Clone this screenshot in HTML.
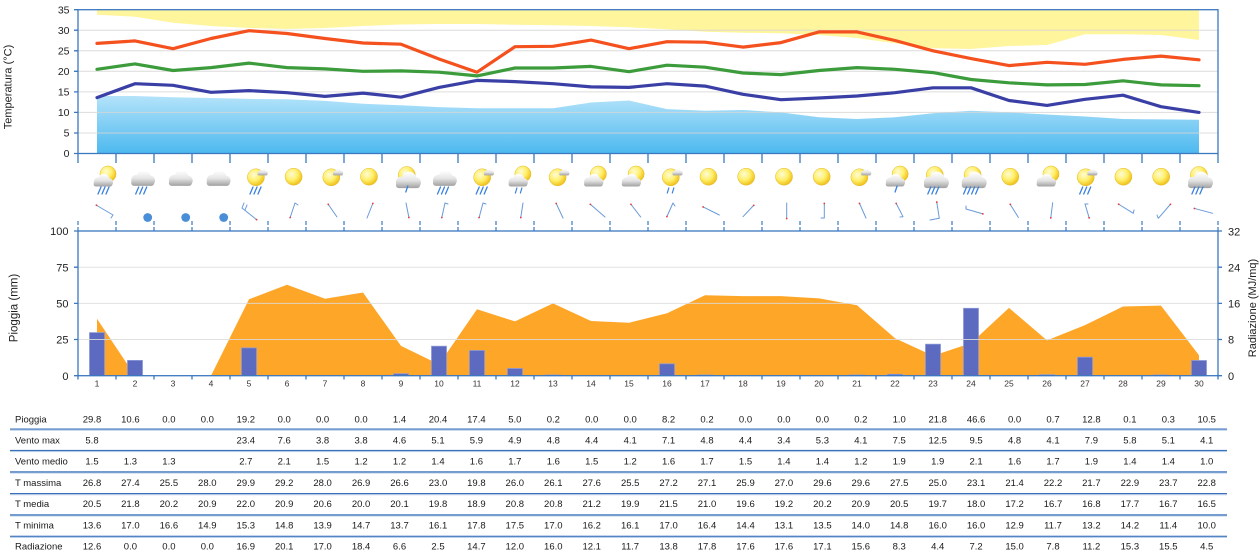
<!DOCTYPE html>
<html><head><meta charset="utf-8"><style>
html,body{margin:0;padding:0;background:#fff;}
svg{display:block;font-family:"Liberation Sans",Arial,sans-serif;}
</style></head><body>
<svg width="1260" height="554" viewBox="0 0 1260 554" xmlns="http://www.w3.org/2000/svg">
<defs>
<linearGradient id="gb" gradientUnits="userSpaceOnUse" x1="0" y1="96" x2="0" y2="153.5">
<stop offset="0" stop-color="#b4e3fa"/><stop offset="1" stop-color="#4cb9ef"/></linearGradient>
<radialGradient id="gs" gradientUnits="userSpaceOnUse" cx="-2" cy="-2.5" r="11">
<stop offset="0" stop-color="#fffbd6"/><stop offset="0.55" stop-color="#ffef6a"/><stop offset="1" stop-color="#f0c21c"/></radialGradient>
<linearGradient id="gc" gradientUnits="userSpaceOnUse" x1="0" y1="-8" x2="0" y2="7">
<stop offset="0" stop-color="#ffffff"/><stop offset="0.5" stop-color="#e4e4e4"/><stop offset="1" stop-color="#9c9c9c"/></linearGradient>
<g id="sun"><circle r="8.5" fill="url(#gs)" stroke="#e2b82e" stroke-width="0.5"/></g>
<g id="cl" fill="url(#gc)"><circle cx="-6" cy="1" r="5"/><circle cx="1" cy="-2" r="6.5"/><circle cx="7" cy="1.5" r="4.8"/><rect x="-11" y="1" width="22" height="5.5" rx="2.7"/></g>
<g id="rn" fill="none" stroke="#3a80e0" stroke-width="1.3" stroke-linecap="round"><path d="M-3,-5 L-6,2 M1,-5 L-2,2 M5,-5 L2,2"/></g>
<g id="rn4" fill="none" stroke="#3a80e0" stroke-width="1.3" stroke-linecap="round"><path d="M-6,-5 L-9,2 M-2,-5 L-5,2 M2,-5 L-1,2 M6,-5 L3,2"/></g>
<g id="d1" fill="none" stroke="#3a80e0" stroke-width="1.3" stroke-linecap="round"><path d="M1,-4 L-1,2"/></g>
<g id="d2" fill="none" stroke="#3a80e0" stroke-width="1.2" stroke-linecap="round"><path d="M-2,-3 L-3.5,2 M3,-3 L1.5,2"/></g>
</defs>

<!-- TOP CHART -->
<polygon fill="#fff59d" points="97,9.7 97,14.7 135,16.7 173,22.7 211,26 249,28 287,29 325,28 363,26 401,24.5 439,24 477,24 515,24.7 553,25.3 591,26 629,27.3 667,29.3 705,31.7 743,32.7 781,33.3 819,35 857,38 895,43.3 933,48.3 971,49 1009,46 1047,45 1085,34.3 1123,34.3 1161,35 1199,40 1199,9.7"/>
<polygon fill="url(#gb)" points="97,153.5 97,96 135,96 173,97.2 211,98 249,98.9 287,99.3 325,100.9 363,103.8 401,105.2 439,107.1 477,108.3 515,108.3 553,108.3 591,102.5 629,100.5 667,109.1 705,110.8 743,110 781,112.4 819,117.3 857,119 895,117.3 933,113.2 971,110.8 1009,112.4 1047,114.5 1085,116.5 1123,119 1161,119.4 1199,119.8 1199,153.5"/>
<g stroke="#d6d6d6" stroke-width="1" opacity="0.85">
<path d="M78,30.2H1218M78,50.8H1218M78,71.3H1218M78,91.9H1218M78,112.4H1218M78,133H1218"/>
</g>
<g fill="none" stroke-width="3.2" stroke-linejoin="round" stroke-linecap="round">
<polyline stroke="#f4511e" points="97,43.4 135,40.9 173,48.7 211,38.5 249,30.7 287,33.5 325,38.5 363,43 401,44.2 439,59 477,72.2 515,46.7 553,46.3 591,40.1 629,48.7 667,41.7 705,42.2 743,47.1 781,42.6 819,31.9 857,31.9 895,40.5 933,50.8 971,58.6 1009,65.6 1047,62.3 1085,64.3 1123,59.4 1161,56.1 1199,59.8"/>
<polyline stroke="#3c9c3c" points="97,69.3 135,63.9 173,70.5 211,67.6 249,63.1 287,67.6 325,68.9 363,71.3 401,70.9 439,72.2 477,75.9 515,68 553,68 591,66.4 629,71.7 667,65.2 705,67.2 743,73 781,74.6 819,70.5 857,67.6 895,69.3 933,72.6 971,79.5 1009,82.8 1047,84.9 1085,84.5 1123,80.8 1161,84.9 1199,85.7"/>
<polyline stroke="#3a3fa6" points="97,97.6 135,83.7 173,85.3 211,92.3 249,90.6 287,92.7 325,96.4 363,93.1 401,97.2 439,87.4 477,80.4 515,81.6 553,83.7 591,86.9 629,87.4 667,83.7 705,86.1 743,94.3 781,99.7 819,98 857,96 895,92.7 933,87.8 971,87.8 1009,100.5 1047,105.4 1085,99.3 1123,95.2 1161,106.7 1199,112.4"/>
</g>
<g stroke="#3a78c0" stroke-width="1.3" fill="none">
<rect x="78" y="9.7" width="1140" height="143.8"/>
<path d="M74,9.7H78M74,30.2H78M74,50.8H78M74,71.3H78M74,91.9H78M74,112.4H78M74,133H78M74,153.5H78"/>
<path d="M78,153.5V163M116,153.5V163M154,153.5V163M192,153.5V163M230,153.5V163M268,153.5V163M306,153.5V163M344,153.5V163M382,153.5V163M420,153.5V163M458,153.5V163M496,153.5V163M534,153.5V163M572,153.5V163M610,153.5V163M648,153.5V163M686,153.5V163M724,153.5V163M762,153.5V163M800,153.5V163M838,153.5V163M876,153.5V163M914,153.5V163M952,153.5V163M990,153.5V163M1028,153.5V163M1066,153.5V163M1104,153.5V163M1142,153.5V163M1180,153.5V163M1218,153.5V163"/>
</g>
<g font-size="10.5" fill="#222" text-anchor="end">
<text x="69.5" y="13.4">35</text><text x="69.5" y="33.9">30</text><text x="69.5" y="54.5">25</text><text x="69.5" y="75">20</text><text x="69.5" y="95.6">15</text><text x="69.5" y="116.1">10</text><text x="69.5" y="136.7">5</text><text x="69.5" y="157.2">0</text>
</g>
<text font-size="11" fill="#222" text-anchor="middle" transform="translate(11.5,87) rotate(-90)">Temperatura (°C)</text>

<!-- ICONS -->
<g>
<use href="#sun" transform="translate(108,174) scale(0.95)"/><use href="#cl" transform="translate(103,181) scale(0.85)"/><use href="#rn" transform="translate(104,192)"/>
<use href="#cl" transform="translate(142.7,179) scale(1.05)"/><use href="#rn" transform="translate(141.7,192)"/>
<use href="#cl" transform="translate(180.4,179) scale(1.05)"/>
<use href="#cl" transform="translate(218.2,179) scale(1.05)"/>
<use href="#sun" transform="translate(255.9,177.3)"/><use href="#cl" transform="translate(262.5,172.5) scale(0.45)"/><use href="#rn" transform="translate(256,192)"/>
<use href="#sun" transform="translate(293.6,176.7)"/>
<use href="#sun" transform="translate(331.3,177.3)"/><use href="#cl" transform="translate(337.9,172.5) scale(0.45)"/>
<use href="#sun" transform="translate(369,176.7)"/>
<use href="#sun" transform="translate(406.8,175)"/><use href="#cl" transform="translate(408,181) scale(1.1)"/><use href="#d1" transform="translate(406.8,190)"/>
<use href="#cl" transform="translate(444.5,179) scale(1.05)"/><use href="#rn" transform="translate(443.5,192)"/>
<use href="#sun" transform="translate(482.2,177.3)"/><use href="#cl" transform="translate(488.8,172.5) scale(0.45)"/><use href="#rn" transform="translate(482.2,192)"/>
<use href="#sun" transform="translate(522.9,174) scale(0.95)"/><use href="#cl" transform="translate(517.9,181) scale(0.85)"/><use href="#d2" transform="translate(518.9,191)"/>
<use href="#sun" transform="translate(557.6,177.3)"/><use href="#cl" transform="translate(564.2,172.5) scale(0.45)"/>
<use href="#sun" transform="translate(598.4,174) scale(0.95)"/><use href="#cl" transform="translate(593.4,181) scale(0.85)"/>
<use href="#sun" transform="translate(636.1,174) scale(0.95)"/><use href="#cl" transform="translate(631.1,181) scale(0.85)"/>
<use href="#sun" transform="translate(670.8,177.3)"/><use href="#cl" transform="translate(677.4,172.5) scale(0.45)"/><use href="#d2" transform="translate(670.8,191)"/>
<use href="#sun" transform="translate(708.5,176.7)"/>
<use href="#sun" transform="translate(746.2,176.7)"/>
<use href="#sun" transform="translate(784,176.7)"/>
<use href="#sun" transform="translate(821.7,176.7)"/>
<use href="#sun" transform="translate(859.4,177.3)"/><use href="#cl" transform="translate(866,172.5) scale(0.45)"/>
<use href="#sun" transform="translate(900.1,174) scale(0.95)"/><use href="#cl" transform="translate(895.1,181) scale(0.85)"/><use href="#d1" transform="translate(896.1,190)"/>
<use href="#sun" transform="translate(934.8,175)"/><use href="#cl" transform="translate(936,181) scale(1.1)"/><use href="#rn" transform="translate(933.8,192)"/>
<use href="#sun" transform="translate(972.6,175)"/><use href="#cl" transform="translate(973.8,181) scale(1.1)"/><use href="#rn4" transform="translate(972.6,192)"/>
<use href="#sun" transform="translate(1010.3,176.7)"/>
<use href="#sun" transform="translate(1051,174) scale(0.95)"/><use href="#cl" transform="translate(1046,181) scale(0.85)"/>
<use href="#sun" transform="translate(1085.7,177.3)"/><use href="#cl" transform="translate(1092.3,172.5) scale(0.45)"/><use href="#rn" transform="translate(1085.7,192)"/>
<use href="#sun" transform="translate(1123.4,176.7)"/>
<use href="#sun" transform="translate(1161.2,176.7)"/>
<use href="#sun" transform="translate(1198.9,175)"/><use href="#cl" transform="translate(1200.1,181) scale(1.1)"/><use href="#rn" transform="translate(1197.9,192)"/>
</g>

<!-- WIND -->
<g stroke="#6a9ad8" stroke-width="1" fill="none" stroke-linecap="round">
<path d="M96,205L113,215M113,215L111,218"/>
<path d="M257,220L242,208M242,208L244,203M245,210L247,205"/>
<path d="M290,218L295,203M295,203L298,205"/>
<path d="M328,204L337,217"/>
<path d="M373,203L367,218"/>
<path d="M409,218L406,203"/>
<path d="M441.7,218L445,203M445,203L448,204"/>
<path d="M479,218L483,203M483,203L486,204"/>
<path d="M520.7,218L523,203"/>
<path d="M556,203L563,218"/>
<path d="M590,204L605,217"/>
<path d="M630.7,204L640.7,217"/>
<path d="M666.7,217L673,203M673,203L675,206"/>
<path d="M702.7,206.7L719.3,215"/>
<path d="M754,205L743,216.7"/>
<path d="M786.7,219L786.7,203"/>
<path d="M824.3,203L824.3,218M824.3,218L821,218"/>
<path d="M859.3,203L866,218"/>
<path d="M896,203L903,216.7M903,216.7L900,217"/>
<path d="M936.7,201.7L939.3,218.3M939.3,218.3L930,220"/>
<path d="M983.3,214L966,209M966,209L966,206"/>
<path d="M1010,204L1018.3,217.3"/>
<path d="M1050.7,218.3L1052.7,202.7"/>
<path d="M1089.3,218.3L1085,204M1085,204L1088,204"/>
<path d="M1118.3,204L1133.3,213.3M1133.3,213.3L1134,210"/>
<path d="M1170.7,204L1158.3,218.3M1158.3,218.3L1157,215"/>
<path d="M1194,208.3L1212.7,213.3"/>
</g>
<g fill="#e83a3a">
<circle cx="96.5" cy="205.3" r="0.9"/><circle cx="256.5" cy="219.6" r="0.9"/><circle cx="290.2" cy="217.5" r="0.9"/><circle cx="328.3" cy="204.4" r="0.9"/><circle cx="372.8" cy="203.5" r="0.9"/><circle cx="408.9" cy="217.5" r="0.9"/><circle cx="441.8" cy="217.5" r="0.9"/><circle cx="479.1" cy="217.5" r="0.9"/><circle cx="520.8" cy="217.5" r="0.9"/><circle cx="556.2" cy="203.5" r="0.9"/><circle cx="590.4" cy="204.4" r="0.9"/><circle cx="631" cy="204.4" r="0.9"/><circle cx="666.9" cy="216.5" r="0.9"/><circle cx="703.2" cy="207" r="0.9"/><circle cx="753.7" cy="205.4" r="0.9"/><circle cx="786.7" cy="218.5" r="0.9"/><circle cx="824.3" cy="203.5" r="0.9"/><circle cx="859.5" cy="203.5" r="0.9"/><circle cx="896.2" cy="203.5" r="0.9"/><circle cx="936.8" cy="202.2" r="0.9"/><circle cx="982.8" cy="213.9" r="0.9"/><circle cx="1010.3" cy="204.4" r="0.9"/><circle cx="1050.8" cy="217.8" r="0.9"/><circle cx="1089.1" cy="217.8" r="0.9"/><circle cx="1118.7" cy="204.3" r="0.9"/><circle cx="1170.4" cy="204.4" r="0.9"/><circle cx="1194.5" cy="208.5" r="0.9"/>
</g>
<g fill="#4a8ed8">
<circle cx="147.7" cy="217.5" r="4.4"/><circle cx="185.7" cy="217.5" r="4.4"/><circle cx="223.7" cy="217.5" r="4.4"/>
</g>

<!-- BOTTOM CHART -->
<polygon fill="#fea628" points="97,375.7 97,318.7 135,375.7 173,375.7 211,375.7 249,299.3 287,284.8 325,298.8 363,292.5 401,345.9 439,364.4 477,309.2 515,321.4 553,303.4 591,321 629,322.8 667,313.3 705,295.2 743,296.1 781,296.1 819,298.4 857,305.2 895,338.2 933,355.8 971,343.1 1009,307.9 1047,340.4 1085,325.1 1123,306.5 1161,305.6 1199,355.3 1199,375.7"/>
<g fill="#5c6bc0" stroke="#8c98d8" stroke-width="0.8">
<rect x="89.5" y="332.6" width="15" height="43.1"/>
<rect x="127.5" y="360.4" width="15" height="15.3"/>
<rect x="241.5" y="347.9" width="15" height="27.8"/>
<rect x="393.5" y="373.7" width="15" height="2"/>
<rect x="431.5" y="346.2" width="15" height="29.5"/>
<rect x="469.5" y="350.5" width="15" height="25.2"/>
<rect x="507.5" y="368.5" width="15" height="7.2"/>
<rect x="545.5" y="375" width="15" height="0.7"/>
<rect x="659.5" y="363.8" width="15" height="11.9"/>
<rect x="697.5" y="375" width="15" height="0.7"/>
<rect x="849.5" y="375" width="15" height="0.7"/>
<rect x="887.5" y="374.3" width="15" height="1.4"/>
<rect x="925.5" y="344.2" width="15" height="31.5"/>
<rect x="963.5" y="308.3" width="15" height="67.4"/>
<rect x="1039.5" y="374.7" width="15" height="1"/>
<rect x="1077.5" y="357.2" width="15" height="18.5"/>
<rect x="1153.5" y="375" width="15" height="0.7"/>
<rect x="1191.5" y="360.5" width="15" height="15.2"/>
</g>
<g stroke="#dcdcdc" stroke-width="1" opacity="0.85">
<path d="M78,267.2H1218M78,303.4H1218M78,339.5H1218"/>
</g>
<g stroke="#3a78c0" stroke-width="1.3" fill="none">
<rect x="78" y="231" width="1140" height="144.7"/>
<path d="M74,231H78M74,267.2H78M74,303.4H78M74,339.5H78M74,375.7H78"/>
<path d="M1218,231H1222M1218,267.2H1222M1218,303.4H1222M1218,339.5H1222M1218,375.7H1222"/>
<path d="M78,375.7V379.5M116,375.7V379.5M154,375.7V379.5M192,375.7V379.5M230,375.7V379.5M268,375.7V379.5M306,375.7V379.5M344,375.7V379.5M382,375.7V379.5M420,375.7V379.5M458,375.7V379.5M496,375.7V379.5M534,375.7V379.5M572,375.7V379.5M610,375.7V379.5M648,375.7V379.5M686,375.7V379.5M724,375.7V379.5M762,375.7V379.5M800,375.7V379.5M838,375.7V379.5M876,375.7V379.5M914,375.7V379.5M952,375.7V379.5M990,375.7V379.5M1028,375.7V379.5M1066,375.7V379.5M1104,375.7V379.5M1142,375.7V379.5M1180,375.7V379.5M1218,375.7V379.5"/>
</g>
<g stroke="#3a78c0" stroke-width="1.2" fill="none" stroke-dasharray="4,2">
<path d="M78,221V231M116,221V231M154,221V231M192,221V231M230,221V231M268,221V231M306,221V231M344,221V231M382,221V231M420,221V231M458,221V231M496,221V231M534,221V231M572,221V231M610,221V231M648,221V231M686,221V231M724,221V231M762,221V231M800,221V231M838,221V231M876,221V231M914,221V231M952,221V231M990,221V231M1028,221V231M1066,221V231M1104,221V231M1142,221V231M1180,221V231M1218,221V231"/>
</g>
<g font-size="11" fill="#222" text-anchor="end">
<text x="68.5" y="235.1">100</text><text x="68.5" y="271.3">75</text><text x="68.5" y="307.5">50</text><text x="68.5" y="343.6">25</text><text x="68.5" y="379.8">0</text>
</g>
<g font-size="11" fill="#222" text-anchor="start">
<text x="1228" y="235.6">32</text><text x="1228" y="271.3">24</text><text x="1228" y="307.5">16</text><text x="1228" y="343.6">8</text><text x="1228" y="379.8">0</text>
</g>
<text font-size="11.5" fill="#222" text-anchor="middle" transform="translate(17.5,308) rotate(-90)">Pioggia (mm)</text>
<text font-size="11" fill="#222" text-anchor="middle" transform="translate(1256,308) rotate(-90)">Radiazione (MJ/mq)</text>
<g font-size="8.5" fill="#333" text-anchor="middle">
<text x="97" y="386.5">1</text><text x="135" y="386.5">2</text><text x="173" y="386.5">3</text><text x="211" y="386.5">4</text><text x="249" y="386.5">5</text><text x="287" y="386.5">6</text><text x="325" y="386.5">7</text><text x="363" y="386.5">8</text><text x="401" y="386.5">9</text><text x="439" y="386.5">10</text><text x="477" y="386.5">11</text><text x="515" y="386.5">12</text><text x="553" y="386.5">13</text><text x="591" y="386.5">14</text><text x="629" y="386.5">15</text><text x="667" y="386.5">16</text><text x="705" y="386.5">17</text><text x="743" y="386.5">18</text><text x="781" y="386.5">19</text><text x="819" y="386.5">20</text><text x="857" y="386.5">21</text><text x="895" y="386.5">22</text><text x="933" y="386.5">23</text><text x="971" y="386.5">24</text><text x="1009" y="386.5">25</text><text x="1047" y="386.5">26</text><text x="1085" y="386.5">27</text><text x="1123" y="386.5">28</text><text x="1161" y="386.5">29</text><text x="1199" y="386.5">30</text>
</g>

<!-- TABLE LINES -->
<g>
<rect x="10" y="428.5" width="1217" height="1.2" fill="#3a70b8"/><rect x="10" y="429.7" width="1217" height="1" fill="#b4cbe8"/>
<rect x="10" y="449.9" width="1217" height="1.2" fill="#3a70b8"/><rect x="10" y="451.1" width="1217" height="1" fill="#b4cbe8"/>
<rect x="10" y="471.3" width="1217" height="1.2" fill="#3a70b8"/><rect x="10" y="472.5" width="1217" height="1" fill="#b4cbe8"/>
<rect x="10" y="493" width="1217" height="1.2" fill="#3a70b8"/><rect x="10" y="494.2" width="1217" height="1" fill="#b4cbe8"/>
<rect x="10" y="514.3" width="1217" height="1.2" fill="#3a70b8"/><rect x="10" y="515.5" width="1217" height="1" fill="#b4cbe8"/>
<rect x="10" y="535.7" width="1217" height="1.2" fill="#3a70b8"/><rect x="10" y="536.9" width="1217" height="1" fill="#b4cbe8"/>
</g>

<!-- TABLE TEXT -->
<g font-size="9.5" fill="#1a1a1a" text-anchor="middle">
<g transform="translate(0,422.3)"><text x="15" text-anchor="start">Pioggia</text><text x="92">29.8</text><text x="130.4">10.6</text><text x="168.9">0.0</text><text x="207.3">0.0</text><text x="245.8">19.2</text><text x="284.2">0.0</text><text x="322.6">0.0</text><text x="361.1">0.0</text><text x="399.5">1.4</text><text x="438">20.4</text><text x="476.4">17.4</text><text x="514.8">5.0</text><text x="553.3">0.2</text><text x="591.7">0.0</text><text x="630.2">0.0</text><text x="668.6">8.2</text><text x="707">0.2</text><text x="745.5">0.0</text><text x="783.9">0.0</text><text x="822.4">0.0</text><text x="860.8">0.2</text><text x="899.2">1.0</text><text x="937.7">21.8</text><text x="976.1">46.6</text><text x="1014.6">0.0</text><text x="1053">0.7</text><text x="1091.4">12.8</text><text x="1129.9">0.1</text><text x="1168.3">0.3</text><text x="1206.7">10.5</text></g>
<g transform="translate(0,443.7)"><text x="15" text-anchor="start">Vento max</text><text x="92">5.8</text><text x="245.8">23.4</text><text x="284.2">7.6</text><text x="322.6">3.8</text><text x="361.1">3.8</text><text x="399.5">4.6</text><text x="438">5.1</text><text x="476.4">5.9</text><text x="514.8">4.9</text><text x="553.3">4.8</text><text x="591.7">4.4</text><text x="630.2">4.1</text><text x="668.6">7.1</text><text x="707">4.8</text><text x="745.5">4.4</text><text x="783.9">3.4</text><text x="822.4">5.3</text><text x="860.8">4.1</text><text x="899.2">7.5</text><text x="937.7">12.5</text><text x="976.1">9.5</text><text x="1014.6">4.8</text><text x="1053">4.1</text><text x="1091.4">7.9</text><text x="1129.9">5.8</text><text x="1168.3">5.1</text><text x="1206.7">4.1</text></g>
<g transform="translate(0,464.6)"><text x="15" text-anchor="start">Vento medio</text><text x="92">1.5</text><text x="130.4">1.3</text><text x="168.9">1.3</text><text x="245.8">2.7</text><text x="284.2">2.1</text><text x="322.6">1.5</text><text x="361.1">1.2</text><text x="399.5">1.2</text><text x="438">1.4</text><text x="476.4">1.6</text><text x="514.8">1.7</text><text x="553.3">1.6</text><text x="591.7">1.5</text><text x="630.2">1.2</text><text x="668.6">1.6</text><text x="707">1.7</text><text x="745.5">1.5</text><text x="783.9">1.4</text><text x="822.4">1.4</text><text x="860.8">1.2</text><text x="899.2">1.9</text><text x="937.7">1.9</text><text x="976.1">2.1</text><text x="1014.6">1.6</text><text x="1053">1.7</text><text x="1091.4">1.9</text><text x="1129.9">1.4</text><text x="1168.3">1.4</text><text x="1206.7">1.0</text></g>
<g transform="translate(0,485.9)"><text x="15" text-anchor="start">T massima</text><text x="92">26.8</text><text x="130.4">27.4</text><text x="168.9">25.5</text><text x="207.3">28.0</text><text x="245.8">29.9</text><text x="284.2">29.2</text><text x="322.6">28.0</text><text x="361.1">26.9</text><text x="399.5">26.6</text><text x="438">23.0</text><text x="476.4">19.8</text><text x="514.8">26.0</text><text x="553.3">26.1</text><text x="591.7">27.6</text><text x="630.2">25.5</text><text x="668.6">27.2</text><text x="707">27.1</text><text x="745.5">25.9</text><text x="783.9">27.0</text><text x="822.4">29.6</text><text x="860.8">29.6</text><text x="899.2">27.5</text><text x="937.7">25.0</text><text x="976.1">23.1</text><text x="1014.6">21.4</text><text x="1053">22.2</text><text x="1091.4">21.7</text><text x="1129.9">22.9</text><text x="1168.3">23.7</text><text x="1206.7">22.8</text></g>
<g transform="translate(0,507.1)"><text x="15" text-anchor="start">T media</text><text x="92">20.5</text><text x="130.4">21.8</text><text x="168.9">20.2</text><text x="207.3">20.9</text><text x="245.8">22.0</text><text x="284.2">20.9</text><text x="322.6">20.6</text><text x="361.1">20.0</text><text x="399.5">20.1</text><text x="438">19.8</text><text x="476.4">18.9</text><text x="514.8">20.8</text><text x="553.3">20.8</text><text x="591.7">21.2</text><text x="630.2">19.9</text><text x="668.6">21.5</text><text x="707">21.0</text><text x="745.5">19.6</text><text x="783.9">19.2</text><text x="822.4">20.2</text><text x="860.8">20.9</text><text x="899.2">20.5</text><text x="937.7">19.7</text><text x="976.1">18.0</text><text x="1014.6">17.2</text><text x="1053">16.7</text><text x="1091.4">16.8</text><text x="1129.9">17.7</text><text x="1168.3">16.7</text><text x="1206.7">16.5</text></g>
<g transform="translate(0,528.4)"><text x="15" text-anchor="start">T minima</text><text x="92">13.6</text><text x="130.4">17.0</text><text x="168.9">16.6</text><text x="207.3">14.9</text><text x="245.8">15.3</text><text x="284.2">14.8</text><text x="322.6">13.9</text><text x="361.1">14.7</text><text x="399.5">13.7</text><text x="438">16.1</text><text x="476.4">17.8</text><text x="514.8">17.5</text><text x="553.3">17.0</text><text x="591.7">16.2</text><text x="630.2">16.1</text><text x="668.6">17.0</text><text x="707">16.4</text><text x="745.5">14.4</text><text x="783.9">13.1</text><text x="822.4">13.5</text><text x="860.8">14.0</text><text x="899.2">14.8</text><text x="937.7">16.0</text><text x="976.1">16.0</text><text x="1014.6">12.9</text><text x="1053">11.7</text><text x="1091.4">13.2</text><text x="1129.9">14.2</text><text x="1168.3">11.4</text><text x="1206.7">10.0</text></g>
<g transform="translate(0,549.4)"><text x="15" text-anchor="start">Radiazione</text><text x="92">12.6</text><text x="130.4">0.0</text><text x="168.9">0.0</text><text x="207.3">0.0</text><text x="245.8">16.9</text><text x="284.2">20.1</text><text x="322.6">17.0</text><text x="361.1">18.4</text><text x="399.5">6.6</text><text x="438">2.5</text><text x="476.4">14.7</text><text x="514.8">12.0</text><text x="553.3">16.0</text><text x="591.7">12.1</text><text x="630.2">11.7</text><text x="668.6">13.8</text><text x="707">17.8</text><text x="745.5">17.6</text><text x="783.9">17.6</text><text x="822.4">17.1</text><text x="860.8">15.6</text><text x="899.2">8.3</text><text x="937.7">4.4</text><text x="976.1">7.2</text><text x="1014.6">15.0</text><text x="1053">7.8</text><text x="1091.4">11.2</text><text x="1129.9">15.3</text><text x="1168.3">15.5</text><text x="1206.7">4.5</text></g>
</g>
</svg>
</body></html>
